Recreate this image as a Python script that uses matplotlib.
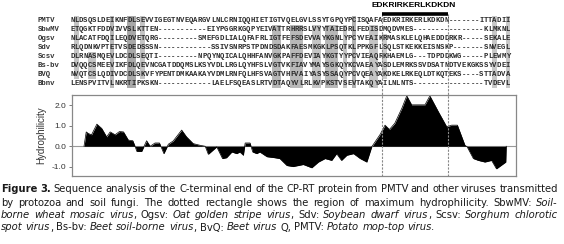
import matplotlib
matplotlib.use('Agg')
import matplotlib.pyplot as plt
from matplotlib.patches import Rectangle

# alignment rows
names = ['PMTV', 'SbwMV', 'Ogsv', 'Sdv', 'Scsv', 'Bs-bv', 'BVQ', 'Bbnv']
seqs = [
    'NLDSQSLDEIKNFDLSEVVIGEGTNVEQARGVLNLCRNIQQHIETIGTVQELGVLSSYTGPQYPCISQAFAEDKRIRKERLKDKDN-------ITTADII',
    'ETQGKTFDDVIVVSLKTTEN-----------EIYPGGRKGQPYEIVATTRHRRSLVYYTAIEDRLFEDISDMQDVMES----------------KLMKNL',
    'NLACATFDQILEQDVETQRG---------SMEFGDLIALQFAFRLIGTFEFSDEVVAYKGNLYPCYVEAIKRMASKLELQHAEDDDRKR-----SEKALE',
    'RLQDNKVPTETVSDEDSSSN------------SSIVSNRPSTPDNDSDAKFAESMKGKLPSQTKLPPKGFLSQLSTKEKKEISNSKP-------SNVEGL',
    'DLRNASMQEVLDCDLSEQTI---------NPQYNQICALQHHFANVGKPAFFDEVIAYKGTYYPCVIEAQRKHAEMLG---TDPDDKWG-----PLEWMY',
    'DVQQCSMEEVIKFDLQEVNCGATDDQMSLKSYVDLLRGLQYHFSLVGTVKFIAVYMAYSGKQYKCVAEAYASDLEMRKSSVDSATNDTVEKGKSSYVDEI',
    'NVQTCSLQDIVDCDLSKVFYPENTDMKAAKAYVDMLRNFQLHFSVAGTVHFVAIYASYSSAQYPCVQEAYAKDKELRKEQLDTKQTEKS----STTADVA',
    'LENSPVITVLNKRTIPKSKN------------LAELFSQEASLRTVDTAQYVLRLKVPKSTVSEVTAKQYAILNLNTS----------------TVDEVL',
]

# shaded (conserved) blocks: first col, last col, first row, last row, grey level
shade_c0 = [1, 4, 9, 13, 16, 46, 50, 55, 58, 62, 64, 68, 71, 96, 99]
shade_c1 = [1, 5, 9, 14, 16, 47, 52, 56, 60, 62, 64, 69, 71, 96, 99]
shade_r0 = [0, 4, 0, 0, 0, 1, 1, 1, 1, 1, 0, 1, 2, 0, 0]
shade_r1 = [6, 6, 7, 7, 6, 7, 7, 7, 7, 7, 7, 7, 6, 7, 7]
shade_col = ['#c4c4c4', '#c4c4c4', '#b8b8b8', '#a8a8a8', '#c4c4c4', '#b8b8b8', '#b8b8b8',
             '#c4c4c4', '#b8b8b8', '#c4c4c4', '#b0b0b0', '#c4c4c4', '#cccccc', '#c8c8c8', '#c8c8c8']

# region of max hydrophilicity (alignment columns)
region = (71, 86)
region_label = 'EDKRIRKERLKDKDN'

# hydrophilicity profile
hyd_pos = [2.7, 3.2, 3.7, 4.4, 5.6, 6.7, 7.8, 8.6, 9.7, 10.7, 11.6, 12.7, 13.7, 14.2, 14.6, 15.7,
           16.8, 17.6, 18.7, 19.7, 20.7, 21.7, 22.8, 24.7, 25.8, 27.3, 28.8, 30.0, 30.7, 32.6, 33.9,
           34.8, 36.0, 37.1, 37.8, 38.6, 39.0, 40.1, 40.7, 41.6, 42.3, 43.9, 45.7, 46.8, 48.4, 49.8,
           52.1, 54.0, 55.5, 57.0, 58.5, 59.6, 60.7, 61.9, 63.4, 64.9, 66.4, 67.5, 69.4, 70.5, 71.5,
           72.7, 74.3, 75.4, 76.5, 79.5, 80.6, 82.5, 84.4, 85.5, 86.8, 88.5, 89.0, 90.4, 91.5, 93.0,
           94.5, 95.6, 97.7, 97.8]
hyd_val = [0.0, 0.7, 0.62, 0.56, 1.08, 0.87, 0.46, 0.7, 0.56, 0.72, 0.7, 0.3, 0.27, 0.0, -0.25, -0.25,
           0.27, 0.0, 0.16, 0.16, -0.36, 0.1, 0.26, 0.79, 0.46, 0.13, 0.05, 0.0, -0.39, -0.03, -0.6,
           -0.56, -0.28, -0.36, -0.28, -0.44, 0.16, 0.16, -0.28, -0.36, -0.28, -0.51, -0.56, -0.6, -0.94, -0.99,
           -0.89, -1.05, -0.77, -0.6, -0.69, -0.36, -0.69, -0.44, -0.36, -0.6, -0.77, -0.03, 0.58, 1.03, 0.82,
           1.12, 1.86, 2.46, 2.02, 2.02, 2.46, 1.69, 0.95, 1.03, 1.03, 0.05, -0.03, -0.6, -0.69, -0.77,
           -0.69, -1.1, -0.77, 0.0]
yticks = [-1.0, 0.0, 1.0, 2.0]
ytick_labels = ['-1.0', '0.0', '1.0', '2.0']

# caption, as (text, style) segments per line: r regular, b bold, i italic
caption = [
    [('Figure 3.', 'b'), (' Sequence analysis of the C-terminal end of the CP-RT protein from PMTV and other viruses transmitted', 'r')],
    [('by protozoa and soil fungi. The dotted rectangle shows the region of maximum hydrophilicity. SbwMV: ', 'r'), ('Soil-', 'i')],
    [('borne wheat mosaic virus', 'i'), (', Ogsv: ', 'r'), ('Oat golden stripe virus', 'i'), (', Sdv: ', 'r'),
     ('Soybean dwarf virus', 'i'), (', Scsv: ', 'r'), ('Sorghum chlorotic', 'i')],
    [('spot virus', 'i'), (', Bs-bv: ', 'r'), ('Beet soil-borne virus', 'i'), (', BvQ: ', 'r'), ('Beet virus', 'i'),
     (' Q, PMTV: ', 'r'), ('Potato mop-top virus.', 'i')],
]

W, H = 564, 244
fig = plt.figure(figsize=(W / 100, H / 100), dpi=100)

# --- hydrophilicity plot
ax = fig.add_axes([72 / W, 1 - 176 / H, 444 / W, 81 / H])
ax.axhline(0, color='#999999', lw=0.8, zorder=0)
ax.fill_between(hyd_pos, hyd_val, 0, color='black', lw=0)
ax.plot(hyd_pos, hyd_val, color='black', lw=0.5)
ax.set_xlim(0, 100)
ax.set_ylim(-1.45, 2.5)
ax.set_xticks([])
ax.set_yticks(yticks)
ax.set_yticklabels(ytick_labels, family='Liberation Sans', fontsize=6, color='#333333')
ax.tick_params(axis='y', length=2.5, width=0.6, color='#666666', pad=1.5)
for s in ax.spines.values():
    s.set_color('#888888')
    s.set_linewidth(0.9)
ax.set_ylabel('Hydrophilicity', family='Liberation Sans', fontsize=7, color='#333333', labelpad=4)

# --- alignment, in column / row units
x0, pitch, y0, rowh = 70, 4.4, 20.5, 9.0
al = fig.add_axes([0, 0, 1, 1], facecolor='none')
al.axis('off')
al.set_xlim(-x0 / pitch, (W - x0) / pitch)
al.set_ylim((H - y0) / rowh, -y0 / rowh)

for c0, c1, r0, r1, col in zip(shade_c0, shade_c1, shade_r0, shade_r1, shade_col):
    al.add_patch(Rectangle((c0, r0 - 0.5), c1 - c0 + 1, r1 - r0 + 1, color=col, lw=0, zorder=1))

for r, (nm, sq) in enumerate(zip(names, seqs)):
    al.text(-7.3, r, nm, family='Liberation Mono', fontweight='bold', fontsize=5.2,
            color='#333333', ha='left', va='center', zorder=3)
    for c, ch in enumerate(sq):
        al.text(c + 0.5, r, ch, family='Liberation Mono', fontweight='bold', fontsize=5.2,
                color='#2a2a2a', ha='center', va='center', zorder=3)

top_row = (14 - y0) / rowh
bot_row = (176 - y0) / rowh
for c in region:
    al.plot([c, c], [top_row, bot_row], color='#888888', lw=0.8, ls=(0, (2, 1.2)), zorder=4)
al.plot([region[0], region[1]], [top_row - 0.05, top_row - 0.05], color='black', lw=2.6,
        solid_capstyle='butt', zorder=5)
al.text((region[0] + region[1]) / 2 - 0.5, (5.5 - y0) / rowh, region_label, family='Liberation Sans',
        fontweight='bold', fontsize=6, ha='center', va='center', color='black')

# --- caption, justified lines
cap = fig.add_axes([0, 0, 1, 1], facecolor='none')
cap.axis('off')
cap.set_xlim(0, W)
cap.set_ylim(H, 0)
cap_size = 7.2
cap_y = [189.5, 202.5, 215, 227.5]
left, right = 1, 558
renderer = fig.canvas.get_renderer()


def make_piece(s, style):
    return cap.text(0, 0, s, fontsize=cap_size, color='#1a1a1a', ha='left', va='center',
                    fontweight='bold' if style == 'b' else 'normal',
                    fontstyle='italic' if style == 'i' else 'normal')


t1 = make_piece('a a', 'r')
t2 = make_piece('aa', 'r')
space_w = t1.get_window_extent(renderer).width - t2.get_window_extent(renderer).width
t1.remove()
t2.remove()

for li, segs in enumerate(caption):
    words = [[]]
    for text, style in segs:
        parts = text.split(' ')
        for k, p in enumerate(parts):
            if k > 0:
                words.append([])
            if p:
                words[-1].append((p, style))
    words = [w for w in words if w]
    objs = []
    for w in words:
        pieces = []
        for p, style in w:
            t = make_piece(p, style)
            pieces.append((t, t.get_window_extent(renderer).width))
        objs.append(pieces)
    widths = [sum(pw for _, pw in pieces) for pieces in objs]
    if li < len(caption) - 1:
        gap = (right - left - sum(widths)) / (len(objs) - 1)
    else:
        gap = space_w
    x = left
    for pieces, ww in zip(objs, widths):
        xx = x
        for t, pw in pieces:
            t.set_position((xx, cap_y[li]))
            xx += pw
        x += ww + gap

fig.savefig('out.png', dpi=100)
